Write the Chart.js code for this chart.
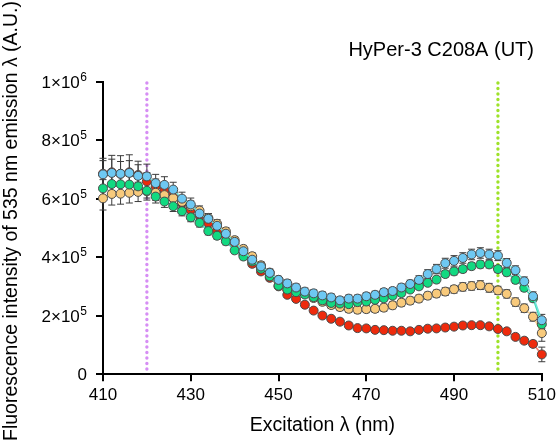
<!DOCTYPE html>
<html>
<head>
<meta charset="utf-8">
<script src="https://cdn.jsdelivr.net/npm/chart.js@4.4.1/dist/chart.umd.min.js"></script>
<style>
  html, body { margin: 0; padding: 0; background: #fff; }
  canvas { display: block; }
</style>
</head>
<body>
<canvas id="spectrum" width="560" height="445"></canvas>
<script>
// excitation wavelengths (nm)
const wavelengths = [410,412,414,416,418,420,422,424,426,428,430,432,434,436,438,440,442,444,446,448,450,
  452,454,456,458,460,462,464,466,468,470,472,474,476,478,480,482,484,486,488,490,492,494,496,498,500,
  502,504,506,508,510];

// emission intensity, in thousands of A.U.
const blueSeries = [684,689,686,689,679,677,654,648,632,601,581,550,532,508,481,453,421,392,369,347,323,
  311,297,283,277,270,263,253,259,259,267,272,281,285,297,309,323,343,360,380,388,398,410,415,410,406,
  381,356,318,267,185];
const greenSeries = [636,651,650,649,643,628,608,591,575,558,537,518,490,474,455,424,403,386,361,335,303,
  290,281,273,264,253,244,242,240,247,249,255,260,269,278,290,301,313,324,343,352,360,370,376,376,360,
  349,323,296,260,171];
const orangeSeries = [602,617,618,621,624,626,621,613,603,590,575,560,535,515,489,459,429,404,373,348,323,
  306,290,277,261,248,237,230,224,221,223,224,228,236,245,252,259,269,276,283,291,299,302,305,296,287,
  275,247,226,197,141];
const redSeries = [686,691,686,691,682,660,643,630,617,586,563,545,518,491,469,444,410,378,352,330,301,
  272,258,238,218,201,190,180,167,158,157,152,151,149,149,147,152,156,157,160,163,167,168,168,164,155,
  147,128,115,104,68];

// error (SD), same unit
const blueErr = [55,60,62,62,50,42,30,28,25,22,22,20,18,16,15,15,14,13,13,12,12,
  12,12,12,12,12,12,12,12,12,12,12,12,12,12,13,14,15,16,17,18,18,18,18,18,17,
  15,15,15,15,20];
const greenErr = [30,30,30,28,26,25,22,20,18,16,15,14,13,12,12,11,11,10,10,10,10,
  10,10,10,10,10,10,10,10,10,10,10,10,10,10,10,10,10,11,11,12,12,12,12,12,12,
  12,12,12,12,15];
const orangeErr = [40,38,36,35,33,30,26,24,22,20,18,16,15,14,13,12,12,12,12,12,12,
  12,12,12,12,12,12,12,12,12,12,12,12,12,12,12,12,12,12,13,13,14,14,15,15,14,
  14,14,14,15,28];
const redErr = [45,45,42,40,35,30,25,20,18,16,15,14,13,12,12,11,10,10,10,10,9,
  9,9,9,8,8,8,8,8,8,8,8,8,8,8,8,8,8,8,8,8,8,8,8,8,8,
  8,10,10,10,25];

const xTicks = [410, 430, 450, 470, 490, 510];
const yTickValues = [0, 200, 400, 600, 800, 1000];
const yTickBase = ['0', '2×10', '4×10', '6×10', '8×10', '1×10'];
const yTickExp = ['', '5', '5', '5', '5', '6'];
const markerLines = [420, 500];
const markerColors = ['#d68ef4', '#9ee22a'];

const FONT = 'Arial, "Liberation Sans", sans-serif';
const yTitle = 'Fluorescence intensity of 535 nm emission λ (A.U.)';

function toPoints(values) {
  return values.map((v, i) => ({ x: wavelengths[i], y: v }));
}

function series(values, errors, fill, line) {
  return {
    data: toPoints(values),
    errors: errors,
    borderColor: line,
    borderWidth: 1.5,
    pointBackgroundColor: fill,
    pointBorderColor: '#4a4a4a',
    pointBorderWidth: 1,
    pointRadius: 4.5,
    tension: 0,
    clip: false
  };
}

const markerPlugin = {
  id: 'markers',
  beforeDatasetsDraw(chart) {
    const ctx = chart.ctx, xs = chart.scales.x, ys = chart.scales.y, area = chart.chartArea;
    ctx.save();
    ctx.lineWidth = 3.4;
    ctx.lineCap = 'round';
    ctx.setLineDash([0.1, 5.4]);
    markerLines.forEach((w, i) => {
      const px = xs.getPixelForValue(w);
      ctx.strokeStyle = markerColors[i];
      ctx.beginPath();
      ctx.moveTo(px, area.top + 1);
      ctx.lineTo(px, area.bottom - 2);
      ctx.stroke();
    });
    ctx.restore();

    // error bars, under the markers
    ctx.save();
    ctx.strokeStyle = '#3c3c3c';
    ctx.lineWidth = 1;
    chart.data.datasets.forEach(ds => {
      ds.data.forEach((p, j) => {
        const e = ds.errors[j];
        const px = xs.getPixelForValue(p.x);
        const top = ys.getPixelForValue(p.y + e);
        const bot = ys.getPixelForValue(p.y - e);
        ctx.beginPath();
        ctx.moveTo(px, top); ctx.lineTo(px, bot);
        ctx.moveTo(px - 3.5, top); ctx.lineTo(px + 3.5, top);
        ctx.moveTo(px - 3.5, bot); ctx.lineTo(px + 3.5, bot);
        ctx.stroke();
      });
    });
    ctx.restore();
  },
  afterDraw(chart) {
    const ctx = chart.ctx, ys = chart.scales.y;
    ctx.save();
    ctx.fillStyle = '#000';
    ctx.font = '20px ' + FONT;
    ctx.textAlign = 'right';
    ctx.textBaseline = 'middle';
    ctx.fillText('HyPer-3 C208A (UT)', 534, 50);

    // y tick labels with superscript exponents
    const right = chart.chartArea.left - 16;
    ctx.textBaseline = 'alphabetic';
    yTickValues.forEach((v, i) => {
      const py = ys.getPixelForValue(v);
      const base = py + 6;
      let x = right;
      if (yTickExp[i]) {
        ctx.font = '12px ' + FONT;
        ctx.fillText(yTickExp[i], x, base - 7);
        x -= ctx.measureText(yTickExp[i]).width + 0.5;
      }
      ctx.font = '17px ' + FONT;
      ctx.fillText(yTickBase[i], x, base);
    });

    // y axis title
    ctx.translate(12, 221);
    ctx.rotate(-Math.PI / 2);
    ctx.textAlign = 'center';
    ctx.textBaseline = 'middle';
    ctx.font = '19.5px ' + FONT;
    ctx.fillText(yTitle, 0, 0);
    ctx.restore();
  }
};

const tickFont = { family: FONT, size: 17 };
const titleFont = { family: FONT, size: 19.5 };

new Chart(document.getElementById('spectrum'), {
  type: 'line',
  data: {
    datasets: [
      series(blueSeries, blueErr, '#6ec8f2', '#6fe3dc'),
      series(greenSeries, greenErr, '#12d981', '#3fd8b0'),
      series(orangeSeries, orangeErr, '#f8ca7c', '#f6d08e'),
      series(redSeries, redErr, '#ee2a0c', '#f27a68')
    ]
  },
  options: {
    responsive: false,
    animation: false,
    layout: { padding: { left: 0, right: 18, top: 82, bottom: 0 } },
    plugins: { legend: { display: false }, tooltip: { enabled: false } },
    scales: {
      x: {
        type: 'linear',
        min: 410,
        max: 510,
        afterFit(s) { s.height = 70.7; },
        afterBuildTicks(s) { s.ticks = xTicks.map(v => ({ value: v })); },
        border: { display: true, color: '#000', width: 2 },
        grid: { display: true, drawOnChartArea: false, drawTicks: true, tickLength: 7, color: '#000', lineWidth: 2 },
        ticks: { color: '#000', font: tickFont, padding: 4, maxRotation: 0 },
        title: { display: true, text: 'Excitation λ (nm)', color: '#000', font: titleFont, padding: { top: 4, bottom: 8 } }
      },
      y: {
        min: 0,
        max: 1000,
        afterFit(s) { s.width = 103; },
        afterBuildTicks(s) { s.ticks = yTickValues.map(v => ({ value: v })); },
        border: { display: true, color: '#000', width: 2 },
        grid: { display: true, drawOnChartArea: false, drawTicks: true, tickLength: 7, color: '#000', lineWidth: 2 },
        ticks: { display: false },
        title: { display: false }
      }
    }
  },
  plugins: [markerPlugin]
});
</script>
</body>
</html>
